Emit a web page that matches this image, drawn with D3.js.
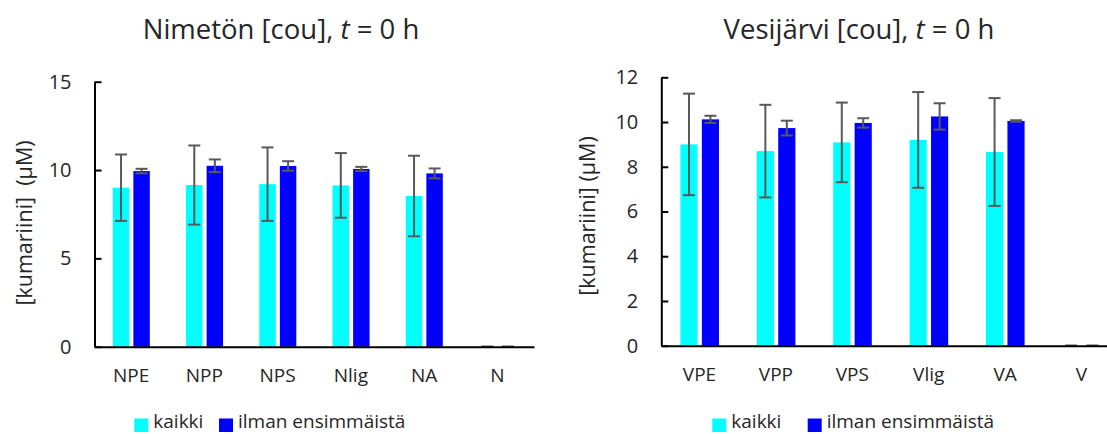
<!DOCTYPE html>
<html>
<head>
<meta charset="utf-8">
<script src="https://cdn.jsdelivr.net/npm/d3@7"></script>
<style>
  body { margin: 0; background: #fff; }
  text { font-family: "Open Sans", "Noto Sans", sans-serif; fill: #262626; }
</style>
</head>
<body>
<svg id="chart" width="1107" height="434"></svg>
<script>
// Nimetön
var categoriesN = ["NPE", "NPP", "NPS", "Nlig", "NA", "N"];
var kaikkiN = [9.0, 9.15, 9.2, 9.13, 8.53, 0];
var kaikkiErrN = [1.88, 2.24, 2.08, 1.83, 2.28, 0];
var ilmanN = [9.94, 10.24, 10.23, 10.06, 9.81, 0];
var ilmanErrN = [0.13, 0.36, 0.27, 0.12, 0.28, 0];
var ticksN = [0, 5, 10, 15];

// Vesijärvi
var categoriesV = ["VPE", "VPP", "VPS", "Vlig", "VA", "V"];
var kaikkiV = [9.0, 8.70, 9.09, 9.2, 8.66, 0];
var kaikkiErrV = [2.27, 2.07, 1.78, 2.14, 2.41, 0];
var ilmanV = [10.12, 9.73, 9.96, 10.25, 10.05, 0];
var ilmanErrV = [0.16, 0.33, 0.21, 0.59, 0.03, 0];
var ticksV = [0, 2, 4, 6, 8, 10, 12];

var seriesNames = ["kaikki", "ilman ensimmäistä"];
var colors = ["#00FFFF", "#0000FF"];

var svg = d3.select("#chart");

function drawChart(opt) {
  var g = svg.append("g");

  var x = d3.scaleBand()
    .domain(opt.categories)
    .range([opt.x0, opt.x1]);
  var bw = x.bandwidth();

  var xSub = d3.scaleBand()
    .domain([0, 1])
    .range([0.25 * bw, 0.755 * bw])
    .paddingInner(0.2);

  var y = d3.scaleLinear()
    .domain([0, opt.ticks[opt.ticks.length - 1]])
    .range([opt.y0, opt.y1]);

  var series = [opt.kaikki, opt.ilman];
  var errs = [opt.kaikkiErr, opt.ilmanErr];

  series.forEach(function (vals, s) {
    g.selectAll(null)
      .data(vals)
      .enter().append("rect")
      .attr("x", function (d, i) { return x(opt.categories[i]) + xSub(s); })
      .attr("y", function (d) { return y(d); })
      .attr("width", xSub.bandwidth())
      .attr("height", function (d) { return y(0) - y(d); })
      .attr("fill", colors[s]);
  });

  // error bars
  series.forEach(function (vals, s) {
    vals.forEach(function (v, i) {
      var cx = x(opt.categories[i]) + xSub(s) + xSub.bandwidth() / 2;
      var e = errs[s][i];
      var eg = g.append("g").attr("stroke", "#595959").attr("stroke-width", 2);
      eg.append("line")
        .attr("x1", cx).attr("x2", cx)
        .attr("y1", y(v + e)).attr("y2", y(v - e));
      [v + e, v - e].forEach(function (yv) {
        eg.append("line")
          .attr("x1", cx - 6).attr("x2", cx + 6)
          .attr("y1", y(yv)).attr("y2", y(yv));
      });
    });
  });

  // y axis
  var yAxis = d3.axisLeft(y).tickValues(opt.ticks).tickSizeInner(-7).tickSizeOuter(0).tickPadding(23);
  var ya = g.append("g")
    .attr("transform", "translate(" + opt.x0 + ",0)")
    .call(yAxis);
  ya.select(".domain").attr("stroke", "#000").attr("stroke-width", 2);
  ya.selectAll(".tick line").attr("stroke", "#000").attr("stroke-width", 2);
  ya.selectAll(".tick text")
    .attr("font-size", 20)
    .style("font-family", "'Open Sans', sans-serif")
    .attr("fill", "#262626");

  // x axis
  var xAxis = d3.axisBottom(x).tickSize(0).tickPadding(22);
  var xa = g.append("g")
    .attr("transform", "translate(0," + opt.y0 + ")")
    .call(xAxis);
  xa.select(".domain").attr("stroke", "#000").attr("stroke-width", 2);
  xa.selectAll(".tick text")
    .attr("font-size", 19)
    .style("font-family", "'Open Sans', sans-serif")
    .attr("fill", "#262626");

  // title
  var title = g.append("text")
    .attr("x", opt.titleX)
    .attr("y", 39)
    .attr("text-anchor", "middle")
    .attr("font-size", 27.5);
  title.append("tspan").text(opt.title + " [cou], ");
  title.append("tspan").attr("font-style", "italic").text("t");
  title.append("tspan").text(" = 0 h");

  // y axis title
  g.append("text")
    .attr("transform", "translate(" + opt.yTitleX + "," + opt.yTitleY + ") rotate(-90)")
    .attr("text-anchor", "middle")
    .attr("font-size", 21.5)
    .attr("xml:space", "preserve")
    .text(opt.yTitle);

  // legend
  seriesNames.forEach(function (name, s) {
    var lx = opt.legendX[s];
    g.append("rect")
      .attr("x", lx).attr("y", 418.5)
      .attr("width", 14).attr("height", 13.5)
      .attr("fill", colors[s]);
    g.append("text")
      .attr("x", lx + 19).attr("y", 427.5)
      .attr("font-size", 19)
      .text(name);
  });
}

drawChart({
  categories: categoriesN, kaikki: kaikkiN, kaikkiErr: kaikkiErrN,
  ilman: ilmanN, ilmanErr: ilmanErrN, ticks: ticksN,
  x0: 94.5, x1: 534, y0: 346.7, y1: 81.7,
  title: "Nimetön", titleX: 281,
  yTitle: "[kumariini]  (µM)", yTitleX: 32, yTitleY: 223,
  legendX: [134.3, 219]
});

drawChart({
  categories: categoriesV, kaikki: kaikkiV, kaikkiErr: kaikkiErrV,
  ilman: ilmanV, ilmanErr: ilmanErrV, ticks: ticksV,
  x0: 661.3, x1: 1119.7, y0: 345.7, y1: 77.3,
  title: "Vesijärvi", titleX: 859,
  yTitle: "[kumariini] (µM)", yTitleX: 595, yTitleY: 216,
  legendX: [712.3, 807.7]
});
</script>
</body>
</html>
